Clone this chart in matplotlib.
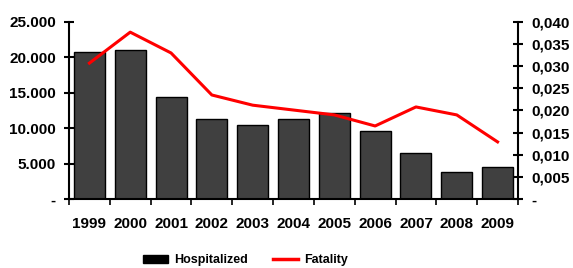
import matplotlib.pyplot as plt
from matplotlib.patches import Patch
from matplotlib.lines import Line2D
from matplotlib.ticker import FuncFormatter

plt.rcParams['font.family'] = ['Liberation Sans', 'DejaVu Sans']
plt.rcParams['font.weight'] = 'bold'

years = ['1999', '2000', '2001', '2002', '2003', '2004', '2005', '2006', '2007', '2008', '2009']
hospitalized = [20800, 21000, 14400, 11300, 10400, 11300, 12100, 9600, 6500, 3800, 4500]
fatality = [0.0307, 0.0377, 0.0330, 0.0235, 0.0212, 0.0201, 0.0190, 0.0165, 0.0208, 0.0190, 0.0129]

fig = plt.figure(figsize=(5.73, 2.68), dpi=100)
ax = fig.add_axes([0.1204, 0.2575, 0.7836, 0.6605])
x = range(len(years))
ax.bar(x, hospitalized, width=0.76, color='#404040', edgecolor='black', linewidth=1)
ax.set_xlim(-0.5, len(years) - 0.5)
ax.set_ylim(0, 25000)
ax.set_yticks(range(0, 25001, 5000))
ax.yaxis.set_major_formatter(FuncFormatter(
    lambda v, p: '-' if v == 0 else f'{int(v):,}'.replace(',', '.')))
ax.set_xticks(x)
ax.set_xticklabels(years)
ax.set_xticks([i + 0.5 for i in range(-1, len(years))], minor=True)
ax.tick_params(axis='x', which='major', length=0, pad=13, labelsize=11)
ax.tick_params(axis='x', which='minor', length=4, width=1.2, direction='out')
ax.tick_params(axis='y', direction='inout', length=7, width=1.5, labelsize=11, pad=6)
for s in ['top', 'right']:
    ax.spines[s].set_visible(False)
for s in ['left', 'bottom']:
    ax.spines[s].set_linewidth(1.5)

ax2 = ax.twinx()
ax2.plot(x, fatality, color='#ff0000', linewidth=2.2)
ax2.set_ylim(0, 0.04)
ax2.set_yticks([i * 0.005 for i in range(9)])
ax2.yaxis.set_major_formatter(FuncFormatter(
    lambda v, p: '-' if abs(v) < 1e-9 else f'{v:.3f}'.replace('.', ',')))
ax2.tick_params(axis='y', direction='inout', length=7, width=1.5, labelsize=11, pad=6)
for s in ['top', 'left', 'bottom']:
    ax2.spines[s].set_visible(False)
ax2.spines['right'].set_linewidth(1.5)

handles = [Patch(facecolor='black', edgecolor='black'),
           Line2D([0], [0], color='#ff0000', linewidth=2.5)]
fig.legend(handles, ['Hospitalized', 'Fatality'], loc='center',
           bbox_to_anchor=(0.428, 0.028), ncol=2, frameon=False, fontsize=9,
           columnspacing=2.0, handlelength=2.0, handleheight=0.6,
           handletextpad=0.5, borderpad=0)

fig.savefig('out.png', dpi=100)
